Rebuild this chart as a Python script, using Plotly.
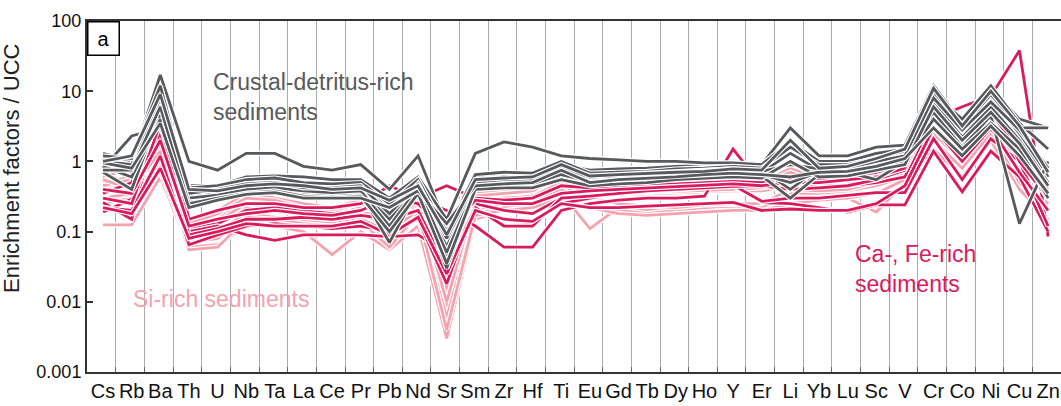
import plotly.graph_objects as go

# element order on the x axis
elements = ["Cs", "Rb", "Ba", "Th", "U", "Nb", "Ta", "La", "Ce", "Pr", "Pb", "Nd", "Sr",
            "Sm", "Zr", "Hf", "Ti", "Eu", "Gd", "Tb", "Dy", "Ho", "Y", "Er", "Li", "Yb",
            "Lu", "Sc", "V", "Cr", "Co", "Ni", "Cu", "Zn"]

y_ticks = [0.001, 0.01, 0.1, 1, 10, 100]
y_tick_text = ["0.001", "0.01", "0.1", "1", "10", "100"]

# enrichment factors / UCC
si_rich = [
    [0.6, 0.8, 1.9, 0.15, 0.2, 0.35, 0.3, 0.25, 0.22, 0.28, 0.2, 0.35, 0.02, 0.35, 0.38, 0.4, 0.7, 0.45, 0.45, 0.45, 0.45, 0.48, 0.5, 0.5, 0.8, 0.55, 0.6, 0.7, 0.9, 5, 2.0, 5.5, 1.3, 0.6],
    [0.5, 0.6, 1.5, 0.12, 0.15, 0.28, 0.25, 0.2, 0.18, 0.22, 0.15, 0.3, 0.012, 0.3, 0.33, 0.35, 0.55, 0.38, 0.38, 0.4, 0.4, 0.42, 0.45, 0.45, 0.6, 0.48, 0.5, 0.6, 0.8, 4, 1.5, 4.5, 1.0, 0.5],
    [0.4, 0.45, 1.2, 0.1, 0.12, 0.22, 0.2, 0.17, 0.15, 0.18, 0.12, 0.25, 0.008, 0.25, 0.28, 0.3, 0.45, 0.32, 0.33, 0.34, 0.35, 0.36, 0.38, 0.38, 0.45, 0.4, 0.42, 0.5, 0.65, 3, 1.2, 3.5, 0.8, 0.35],
    [0.125, 0.125, 0.6, 0.06, 0.065, 0.12, 0.12, 0.1, 0.047, 0.1, 0.055, 0.12, 0.003, 0.15, 0.2, 0.25, 0.35, 0.11, 0.22, 0.2, 0.2, 0.22, 0.24, 0.24, 0.3, 0.3, 0.3, 0.19, 0.5, 1.5, 0.6, 2.0, 0.4, 0.15],
    [0.3, 0.35, 0.9, 0.08, 0.1, 0.18, 0.16, 0.14, 0.13, 0.15, 0.1, 0.2, 0.005, 0.2, 0.24, 0.26, 0.4, 0.25, 0.2, 0.18, 0.2, 0.22, 0.23, 0.22, 0.35, 0.35, 0.38, 0.45, 0.6, 2.5, 1.0, 3.0, 0.6, 0.25],
    [0.35, 0.5, 1.0, 0.055, 0.06, 0.15, 0.14, 0.12, 0.11, 0.13, 0.08, 0.16, 0.006, 0.18, 0.22, 0.22, 0.35, 0.3, 0.25, 0.23, 0.22, 0.24, 0.25, 0.25, 0.4, 0.38, 0.4, 0.5, 0.7, 3.5, 1.1, 4.0, 1.1, 0.45],
    [0.45, 0.55, 1.7, 0.13, 0.18, 0.3, 0.28, 0.22, 0.2, 0.25, 0.18, 0.3, 0.015, 0.32, 0.35, 0.38, 0.6, 0.42, 0.42, 0.42, 0.43, 0.45, 0.48, 0.48, 0.7, 0.5, 0.55, 0.65, 0.85, 4.5, 1.8, 5, 1.2, 0.55],
    [0.25, 0.3, 0.7, 0.07, 0.08, 0.16, 0.15, 0.13, 0.12, 0.14, 0.06, 0.18, 0.004, 0.17, 0.2, 0.22, 0.3, 0.22, 0.18, 0.17, 0.18, 0.19, 0.2, 0.2, 0.25, 0.28, 0.3, 0.35, 0.55, 2.0, 0.8, 2.5, 0.5, 0.2],
    [0.55, 0.4, 1.4, 0.11, 0.14, 0.25, 0.22, 0.18, 0.17, 0.2, 0.13, 0.27, 0.01, 0.28, 0.3, 0.32, 0.5, 0.35, 0.35, 0.36, 0.37, 0.38, 0.4, 0.42, 0.5, 0.45, 0.45, 0.55, 0.75, 3.8, 1.4, 4.0, 0.9, 0.4],
]

ca_fe_rich = [
    [0.26, 0.15, 5.5, 0.11, 0.13, 0.2, 0.22, 0.2, 0.18, 0.2, 0.25, 0.3, 0.2, 0.12, 0.06, 0.06, 0.2, 0.25, 0.28, 0.3, 0.3, 0.32, 1.5, 0.45, 0.5, 0.45, 0.45, 0.5, 0.6, 4, 6, 8.5, 38, 0.085],
    [0.19, 0.29, 2.6, 0.1, 0.12, 0.09, 0.075, 0.09, 0.09, 0.09, 0.085, 0.09, 0.05, 0.2, 0.15, 0.13, 0.25, 0.3, 0.35, 0.38, 0.4, 0.42, 0.45, 0.26, 0.25, 0.22, 0.19, 0.24, 0.24, 1.4, 0.37, 1.4, 0.6, 0.1],
    [0.22, 0.2, 1.2, 0.065, 0.09, 0.12, 0.13, 0.12, 0.11, 0.12, 0.1, 0.15, 0.018, 0.25, 0.2, 0.18, 0.3, 0.35, 0.38, 0.4, 0.42, 0.44, 0.46, 0.27, 0.3, 0.3, 0.33, 0.36, 0.36, 2.1, 0.55, 2.1, 1.0, 0.12],
    [0.35, 0.5, 8, 0.15, 0.2, 0.25, 0.25, 0.22, 0.22, 0.25, 0.45, 0.3, 0.45, 0.3, 0.28, 0.3, 0.45, 0.42, 0.45, 0.46, 0.48, 0.5, 0.52, 0.5, 0.55, 0.55, 0.6, 0.7, 0.9, 7, 2.5, 7, 1.8, 0.5],
    [0.3, 0.25, 3.5, 0.09, 0.11, 0.15, 0.15, 0.16, 0.15, 0.17, 0.15, 0.2, 0.03, 0.22, 0.12, 0.12, 0.3, 0.32, 0.35, 0.38, 0.4, 0.42, 0.44, 0.45, 0.4, 0.42, 0.45, 0.55, 0.75, 5, 1.8, 6, 1.0, 0.3],
    [0.4, 0.35, 2.0, 0.12, 0.15, 0.18, 0.2, 0.18, 0.17, 0.2, 0.3, 0.25, 0.1, 0.28, 0.25, 0.25, 0.35, 0.38, 0.4, 0.42, 0.44, 0.46, 0.48, 0.45, 0.5, 0.5, 0.55, 0.6, 0.8, 6, 2.2, 5, 1.4, 0.6],
    [0.22, 0.18, 0.8, 0.08, 0.1, 0.13, 0.12, 0.12, 0.12, 0.14, 0.09, 0.16, 0.025, 0.2, 0.15, 0.14, 0.25, 0.22, 0.22, 0.23, 0.24, 0.25, 0.26, 0.2, 0.21, 0.2, 0.2, 0.25, 0.45, 3, 1.0, 3.0, 0.7, 0.2],
]

crustal = [
    [1.3, 1.0, 17, 1.0, 0.75, 1.3, 1.3, 0.85, 0.75, 0.9, 0.4, 1.2, 0.12, 0.6, 0.65, 0.6, 0.9, 0.75, 0.78, 0.8, 0.85, 0.88, 0.92, 0.9, 3.0, 1.2, 1.2, 1.6, 1.7, 12, 3.5, 11, 4.0, 3.0],
    [0.8, 2.3, 3.0, 0.45, 0.45, 0.6, 0.62, 0.6, 0.55, 0.55, 0.3, 0.6, 0.15, 1.3, 1.9, 1.6, 1.2, 1.1, 1.05, 1.0, 1.0, 0.95, 0.95, 0.9, 1.9, 1.0, 1.0, 1.3, 1.5, 9, 4.0, 12, 3.5, 1.5],
    [1.1, 0.7, 10, 0.38, 0.42, 0.5, 0.52, 0.45, 0.45, 0.48, 0.2, 0.5, 0.06, 0.55, 0.6, 0.55, 0.85, 0.6, 0.65, 0.7, 0.72, 0.75, 0.8, 0.75, 0.4, 0.8, 0.85, 1.0, 1.3, 10, 2.5, 8, 2.5, 0.6],
    [0.9, 0.85, 7, 0.32, 0.35, 0.42, 0.45, 0.4, 0.38, 0.4, 0.15, 0.45, 0.04, 0.5, 0.5, 0.5, 0.7, 0.55, 0.6, 0.62, 0.65, 0.7, 0.75, 0.7, 1.3, 0.75, 0.8, 0.9, 1.1, 7, 2.2, 6, 2.0, 0.5],
    [0.7, 0.4, 5, 0.28, 0.3, 0.38, 0.4, 0.35, 0.33, 0.35, 0.07, 0.4, 0.03, 0.42, 0.45, 0.45, 0.6, 0.5, 0.52, 0.55, 0.6, 0.62, 0.65, 0.62, 0.3, 0.65, 0.7, 0.55, 1.0, 5, 1.6, 4.5, 0.13, 1.0],
    [1.0, 0.9, 8, 0.42, 0.45, 0.55, 0.58, 0.5, 0.48, 0.5, 0.25, 0.55, 0.1, 0.65, 0.7, 0.68, 1.0, 0.68, 0.7, 0.72, 0.78, 0.8, 0.85, 0.8, 1.6, 0.9, 0.9, 1.1, 1.4, 9, 3.0, 9, 3.0, 3.0],
    [0.85, 0.6, 4, 0.3, 0.33, 0.4, 0.42, 0.38, 0.36, 0.38, 0.12, 0.42, 0.05, 0.45, 0.48, 0.48, 0.65, 0.52, 0.55, 0.58, 0.62, 0.65, 0.7, 0.65, 0.5, 0.7, 0.75, 0.8, 1.0, 4, 1.5, 3.5, 1.5, 0.3],
    [1.2, 1.1, 12, 0.35, 0.4, 0.48, 0.5, 0.42, 0.42, 0.45, 0.18, 0.48, 0.08, 0.5, 0.55, 0.55, 0.8, 0.6, 0.62, 0.65, 0.7, 0.72, 0.78, 0.72, 0.9, 0.78, 0.8, 1.0, 1.2, 8, 2.8, 7, 2.8, 0.8],
    [0.75, 0.75, 6, 0.25, 0.3, 0.35, 0.38, 0.32, 0.3, 0.32, 0.1, 0.35, 0.035, 0.4, 0.42, 0.42, 0.55, 0.45, 0.48, 0.5, 0.55, 0.58, 0.6, 0.58, 1.0, 0.6, 0.62, 0.75, 0.9, 6, 2.0, 5, 1.8, 0.45],
    [0.95, 0.8, 3.5, 0.22, 0.28, 0.34, 0.36, 0.3, 0.3, 0.3, 0.22, 0.38, 0.13, 0.45, 0.48, 0.5, 0.75, 0.5, 0.55, 0.58, 0.6, 0.65, 0.68, 0.65, 0.6, 0.7, 0.72, 0.85, 1.1, 3.0, 1.2, 3.2, 1.2, 0.35],
    [1.0, 1.2, 9, 0.4, 0.38, 0.45, 0.48, 0.45, 0.4, 0.42, 0.28, 0.45, 0.09, 0.55, 0.58, 0.6, 0.9, 0.62, 0.65, 0.68, 0.7, 0.72, 0.78, 0.75, 2.0, 0.8, 0.85, 1.1, 1.5, 11, 3.2, 10, 3.2, 0.7],
]

GRAY = "#58595b"
PINK = "#f4a3ae"
CRIMSON = "#d81b5c"
FONT = "Liberation Sans, Arial, sans-serif"

W, H = 1061, 406
ML, MR, MT, MB = 87, 0, 21, 34


def px_x(p):
    return (p - ML) / (W - ML - MR)


def px_y(p):
    return (H - MB - p) / (H - MT - MB)


fig = go.Figure()
x = list(range(len(elements)))


def add_line(vals, color):
    # each profile gets a thin white halo like the original
    fig.add_trace(go.Scatter(x=x, y=vals, mode="lines", line=dict(color="white", width=5.2),
                             hoverinfo="skip", showlegend=False))
    fig.add_trace(go.Scatter(x=x, y=vals, mode="lines", line=dict(color=color, width=2.8),
                             showlegend=False))


for s in si_rich:
    add_line(s, PINK)
for s in ca_fe_rich:
    add_line(s, CRIMSON)
for s in crustal:
    add_line(s, GRAY)

shapes = [
    dict(type="line", xref="paper", x0=0, x1=1, yref="y", y0=0, y1=0,
         line=dict(color="black", width=1.5), layer="between"),
]
# white boxes behind the group labels (hide the grid only)
for x0, x1, y0, y1 in [(200, 410, 57, 133), (112, 350, 278, 318), (845, 990, 230, 310)]:
    shapes.append(dict(type="rect", xref="paper", yref="paper",
                       x0=px_x(x0), x1=px_x(x1), y0=px_y(y1), y1=px_y(y0),
                       fillcolor="white", line=dict(width=0), layer="between"))

annotations = [
    dict(text="Crustal-detritus-rich<br>sediments", x=px_x(211), y=px_y(97), xref="paper", yref="paper",
         xanchor="left", yanchor="middle", align="left", showarrow=False,
         font=dict(family=FONT, size=23, color=GRAY)),
    dict(text="Si-rich sediments", x=px_x(131), y=px_y(299), xref="paper", yref="paper",
         xanchor="left", yanchor="middle", align="left", showarrow=False,
         font=dict(family=FONT, size=23, color=PINK)),
    dict(text="Ca-, Fe-rich<br>sediments", x=px_x(853), y=px_y(269), xref="paper", yref="paper",
         xanchor="left", yanchor="middle", align="left", showarrow=False,
         font=dict(family=FONT, size=23, color=CRIMSON)),
    dict(text="a", x=0, y=1, xref="paper", yref="paper", xanchor="left", yanchor="top",
         width=28, height=30, borderpad=1, bgcolor="white", bordercolor="black", borderwidth=1.5,
         showarrow=False, font=dict(family=FONT, size=20, color="black")),
    dict(text="Enrichment factors / UCC", x=0, xshift=-75, y=px_y(168), xref="paper", yref="paper",
         xanchor="center", yanchor="middle", textangle=-90, showarrow=False,
         font=dict(family=FONT, size=22, color="#222")),
]

fig.update_layout(
    width=W, height=H,
    margin=dict(l=ML, r=MR, t=MT, b=MB, autoexpand=False),
    paper_bgcolor="white", plot_bgcolor="white",
    font=dict(family=FONT, color="#111"),
    shapes=shapes, annotations=annotations,
    xaxis=dict(
        range=[-0.56, 33.45], tickmode="array", tickvals=x, ticktext=elements, tickangle=0,
        automargin=False, showgrid=False, zeroline=False, ticks="",
        showline=True, linecolor="#333", linewidth=2, mirror=True,
        tickfont=dict(family=FONT, size=20, color="#111"),
        minor=dict(tickmode="array", tickvals=[i + 0.45 for i in range(33)],
                   showgrid=True, gridcolor="#ababab", gridwidth=1.3,
                   ticks="inside", ticklen=5, tickcolor="#666"),
    ),
    yaxis=dict(
        type="log", range=[-3, 2], tickmode="array", tickvals=y_ticks, ticktext=y_tick_text,
        automargin=False, showgrid=False, zeroline=False,
        ticks="inside", ticklen=6, tickwidth=1.5, tickcolor="#333",
        showline=True, linecolor="#333", linewidth=2,
        tickfont=dict(family=FONT, size=18, color="#111"),
    ),
)

# the page's default body margin would shift the figure by 8px
fig.write_html("out.html", config={"displayModeBar": False},
               post_script="document.body.style.margin = '0';")
